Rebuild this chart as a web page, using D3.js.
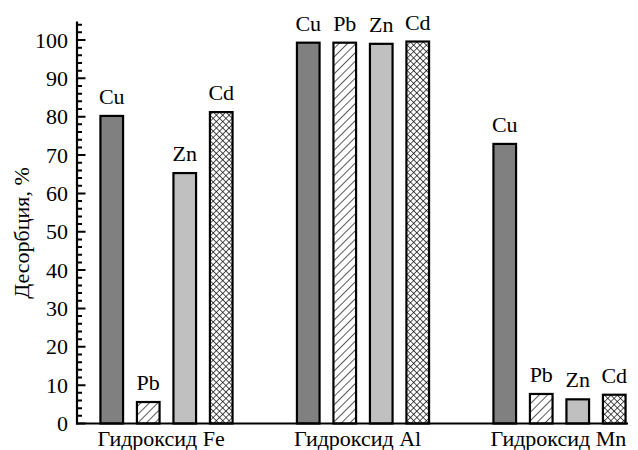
<!DOCTYPE html>
<html>
<head>
<meta charset="utf-8">
<script src="https://cdn.jsdelivr.net/npm/d3@7"></script>
</head>
<body style="margin:0;background:#fff">
<script>
// desorption data, %
var groups = ['Гидроксид Fe', 'Гидроксид Al', 'Гидроксид Mn'];
var metals = ['Cu', 'Pb', 'Zn', 'Cd'];
var cuValues = [80.2, 99.3, 72.9];
var pbValues = [5.6, 99.3, 7.7];
var znValues = [65.3, 99.0, 6.3];
var cdValues = [81.2, 99.6, 7.5];
var yTicks = [0, 10, 20, 30, 40, 50, 60, 70, 80, 90, 100];
var yMinorTicks = [2, 4, 6, 8, 12, 14, 16, 18, 22, 24, 26, 28, 32, 34, 36, 38,
  42, 44, 46, 48, 52, 54, 56, 58, 62, 64, 66, 68, 72, 74, 76, 78, 82, 84, 86, 88,
  92, 94, 96, 98, 102, 104];

var FONT = 'Liberation Serif';

var svg = d3.select('body')
  .append('svg')
  .attr('width', 638)
  .attr('height', 450);

var defs = svg.append('defs');

// diagonal hatch for Pb
var hatch = defs.append('pattern')
  .attr('id', 'hatch')
  .attr('patternUnits', 'userSpaceOnUse')
  .attr('width', 6)
  .attr('height', 6)
  .attr('patternTransform', 'rotate(45)');
hatch.append('rect').attr('width', 6).attr('height', 6).attr('fill', '#fff');
hatch.append('path')
  .attr('d', 'M0,0V6')
  .attr('stroke', '#000').attr('stroke-width', 1.3);

// cross hatch for Cd
var cross = defs.append('pattern')
  .attr('id', 'cross')
  .attr('patternUnits', 'userSpaceOnUse')
  .attr('width', 4.5)
  .attr('height', 4.5)
  .attr('patternTransform', 'rotate(45)');
cross.append('rect').attr('width', 4.5).attr('height', 4.5).attr('fill', '#fff');
cross.append('path')
  .attr('d', 'M0,0V4.5M0,0H4.5')
  .attr('stroke', '#000').attr('stroke-width', 1.3);

var fills = { Cu: '#808080', Pb: 'url(#hatch)', Zn: '#c0c0c0', Cd: 'url(#cross)' };

var y = d3.scaleLinear()
  .domain([0, 100])
  .range([423.5, 40]);

var x0 = d3.scaleBand()
  .domain(groups)
  .range([93.5, 632.5])
  .paddingInner(0.257)
  .paddingOuter(0);

var x1 = d3.scaleBand()
  .domain(metals)
  .range([0, x0.bandwidth()])
  .paddingInner(0.38)
  .paddingOuter(0.19);

var rows = [];
groups.forEach(function(g, i) {
  rows.push({ group: g, metal: 'Cu', value: cuValues[i] });
  rows.push({ group: g, metal: 'Pb', value: pbValues[i] });
  rows.push({ group: g, metal: 'Zn', value: znValues[i] });
  rows.push({ group: g, metal: 'Cd', value: cdValues[i] });
});

// y axis ticks, pointing inward
var tickPath = '';
yMinorTicks.forEach(function(v) { tickPath += 'M77,' + y(v) + 'H82'; });
yTicks.forEach(function(v) { tickPath += 'M77,' + y(v) + 'H85.5'; });
svg.append('path')
  .attr('d', tickPath)
  .attr('fill', 'none')
  .attr('stroke', '#000')
  .attr('stroke-width', 2);
svg.append('path')
  .attr('d', 'M77,21.5V424.6')
  .attr('fill', 'none')
  .attr('stroke', '#000')
  .attr('stroke-width', 2.2);

// bars
svg.append('g')
  .selectAll('rect')
  .data(rows)
  .enter()
  .append('rect')
  .attr('x', function(d) { return x0(d.group) + x1(d.metal); })
  .attr('y', function(d) { return y(d.value); })
  .attr('width', x1.bandwidth())
  .attr('height', function(d) { return y(0) - y(d.value); })
  .attr('fill', function(d) { return fills[d.metal]; })
  .attr('stroke', '#000')
  .attr('stroke-width', 2.2);

// x axis line
svg.append('path')
  .attr('d', 'M76,' + y(0) + 'H628')
  .attr('fill', 'none')
  .attr('stroke', '#000')
  .attr('stroke-width', 2.2);

// labels over bars
svg.selectAll('text.bar')
  .data(rows)
  .enter()
  .append('text')
  .attr('class', 'bar')
  .attr('x', function(d) { return x0(d.group) + x1(d.metal) + x1.bandwidth() / 2; })
  .attr('y', function(d) { return y(d.value) - 12; })
  .attr('text-anchor', 'middle')
  .attr('font-family', FONT)
  .attr('font-size', 22)
  .text(function(d) { return d.metal; });

// tick labels
svg.selectAll('text.tick')
  .data(yTicks)
  .enter()
  .append('text')
  .attr('class', 'tick')
  .attr('x', 68)
  .attr('y', function(d) { return y(d) + 7.5; })
  .attr('text-anchor', 'end')
  .attr('font-family', FONT)
  .attr('font-size', 22)
  .text(function(d) { return d; });

// group labels
svg.selectAll('text.group')
  .data(groups)
  .enter()
  .append('text')
  .attr('class', 'group')
  .attr('x', function(d) { return x0(d) + 4; })
  .attr('y', 446)
  .attr('font-family', FONT)
  .attr('font-size', 22)
  .text(function(d) { return d; });

// y title
svg.append('text')
  .attr('transform', 'translate(29,233) rotate(-90)')
  .attr('text-anchor', 'middle')
  .attr('font-family', FONT)
  .attr('font-size', 22)
  .text('Десорбция, %');
</script>
</body>
</html>
